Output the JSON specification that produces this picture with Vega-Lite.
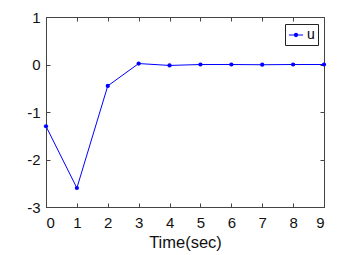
{
  "$schema": "https://vega.github.io/schema/vega-lite/v6.json",
  "width": 278,
  "height": 190,
  "autosize": "none",
  "padding": {"left": 46, "top": 17, "right": 15, "bottom": 48},
  "background": "white",
  "config": {
    "view": {"stroke": "#444444", "strokeWidth": 1},
    "font": "Liberation Sans",
    "axis": {
      "grid": false,
      "domainColor": "#444444",
      "tickColor": "#444444",
      "tickSize": -4,
      "labelColor": "#111111",
      "labelFontSize": 15,
      "titleFontSize": 16.5,
      "titleFontWeight": "normal",
      "titleColor": "#111111"
    }
  },
  "data": {
    "values": [
      {"t": 0, "u": -1.3, "s": "u"},
      {"t": 1, "u": -2.6, "s": "u"},
      {"t": 2, "u": -0.45, "s": "u"},
      {"t": 3, "u": 0.02, "s": "u"},
      {"t": 4, "u": -0.02, "s": "u"},
      {"t": 5, "u": 0.0, "s": "u"},
      {"t": 6, "u": 0.0, "s": "u"},
      {"t": 7, "u": -0.005, "s": "u"},
      {"t": 8, "u": 0.0, "s": "u"},
      {"t": 9, "u": 0.0, "s": "u"}
    ]
  },
  "layer": [
    {
      "mark": {"type": "line", "strokeWidth": 1, "point": {"filled": true, "size": 18}},
      "encoding": {
        "x": {"field": "t", "type": "quantitative", "scale": {"domain": [0, 9], "nice": false},
          "axis": {"title": "Time(sec)", "values": [0,1,2,3,4,5,6,7,8,9], "labelPadding": 12, "titlePadding": 4}},
        "y": {"field": "u", "type": "quantitative", "scale": {"domain": [-3, 1], "nice": false},
          "axis": {"title": null, "values": [-3,-2,-1,0,1], "labelPadding": 10,
            "labelExpr": "datum.value < 0 ? '-' + abs(datum.value) : '' + datum.value"}},
        "color": {"field": "s", "type": "nominal", "scale": {"range": ["#0000ff"]},
          "legend": {"title": null, "orient": "none", "legendX": 239, "legendY": 7,
            "strokeColor": "#222222", "padding": 3, "labelFontSize": 14, "labelFont": "Liberation Sans",
            "symbolType": "M-1,0H1M-0.22,0A0.22,0.22 0 1,0 0.22,0A0.22,0.22 0 1,0 -0.22,0",
            "symbolSize": 200, "symbolStrokeWidth": 1.2, "symbolFillColor": "#0000ff", "labelOffset": 3}}
      }
    },
    {
      "mark": {"type": "point", "opacity": 0},
      "encoding": {
        "x": {"field": "t", "type": "quantitative", "scale": {"domain": [0, 9], "nice": false},
          "axis": {"orient": "top", "labels": false, "title": null, "values": [0,1,2,3,4,5,6,7,8,9]}},
        "y": {"field": "u", "type": "quantitative", "scale": {"domain": [-3, 1], "nice": false},
          "axis": {"orient": "right", "labels": false, "title": null, "values": [-3,-2,-1,0,1]}}
      }
    }
  ],
  "resolve": {"axis": {"x": "independent", "y": "independent"}}
}
